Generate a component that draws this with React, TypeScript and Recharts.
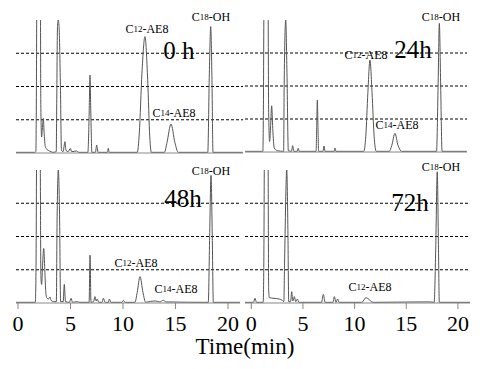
import { Line, LineChart, ReferenceDot, ReferenceLine, XAxis, YAxis } from "recharts";

type Pt = [number, number];

// [retention time (min), signal (% of panel height)]
const trace0h: Pt[] = [
    [0.1, 0.5], [1.9, 0.5], [2.0, 1], [2.06, 60], [2.1, 150], [2.28, 200], [2.43, 150], [2.47, 40],
    [2.55, 12], [2.62, 18], [2.71, 26], [2.8, 14], [2.9, 5], [3.03, 3], [3.3, 1.5], [3.64, 0.5],
    [3.95, 1], [4.0, 40], [4.07, 95], [4.14, 100], [4.22, 95], [4.35, 50], [4.45, 2], [4.6, 1],
    [4.7, 5], [4.78, 8.5], [4.88, 2], [5.1, 1], [5.3, 3.5], [5.42, 1], [5.9, 1.5], [6.1, 0.5],
    [6.98, 0.5], [7.1, 30], [7.18, 58.6], [7.26, 30], [7.36, 0.5], [7.7, 0.5], [7.82, 6], [7.95, 0.5],
    [8.85, 0.5], [8.93, 3.5], [9.02, 0.5], [11.7, 0.5], [11.9, 15], [12.15, 60], [12.44, 87.5],
    [12.7, 55], [12.9, 12], [13.05, 0.5], [14.3, 0.5], [14.55, 8], [14.93, 21.8], [15.3, 8],
    [15.63, 0.5], [18.45, 0.5], [18.6, 60], [18.73, 95], [18.85, 55], [18.95, 0.5], [21.8, 0.5],
];

const trace24h: Pt[] = [
    [0.4, 0.5], [2.1, 0.5], [2.16, 40], [2.21, 120], [2.42, 200], [2.6, 120], [2.66, 30], [2.75, 8],
    [2.85, 20], [2.95, 35], [3.05, 18], [3.2, 3], [3.5, 1], [4.1, 0.5], [4.15, 50], [4.3, 100],
    [4.42, 60], [4.55, 1], [4.85, 0.5], [4.97, 4.8], [5.08, 0.5], [5.4, 0.5], [5.5, 2.8], [5.6, 0.5],
    [7.22, 0.5], [7.28, 20], [7.34, 39.4], [7.4, 20], [7.46, 0.5], [7.88, 0.5], [7.98, 4.5],
    [8.08, 0.5], [8.95, 0.5], [9.04, 3], [9.13, 0.5], [11.8, 0.5], [12.0, 12], [12.2, 45],
    [12.4, 69.7], [12.6, 45], [12.8, 12], [13.0, 0.5], [14.25, 0.5], [14.5, 5], [14.8, 14.1],
    [15.1, 5], [15.45, 0.5], [18.8, 0.5], [18.95, 50], [19.07, 97.5], [19.2, 50], [19.33, 0.5],
    [21.7, 0.5],
];

const trace48h: Pt[] = [
    [-0.19, 0.5], [1.65, 0.5], [1.72, 30], [1.77, 110], [1.95, 200], [2.12, 110], [2.18, 20],
    [2.25, 14], [2.35, 30], [2.45, 41], [2.55, 25], [2.65, 8], [2.73, 4], [2.9, 3], [3.05, 4.5],
    [3.15, 2], [3.4, 1], [3.65, 1], [3.72, 60], [3.84, 100], [3.95, 70], [4.06, 1], [4.3, 1],
    [4.41, 14], [4.52, 1], [4.9, 0.5], [5.05, 3.5], [5.2, 0.5], [5.6, 1], [5.9, 0.5], [6.77, 0.5],
    [6.86, 36], [6.95, 0.5], [7.2, 1], [7.33, 4.8], [7.45, 1.5], [7.55, 3], [7.7, 0.5], [8.0, 0.5],
    [8.13, 3.6], [8.3, 0.5], [8.6, 0.5], [8.7, 3], [8.85, 0.5], [9.9, 0.5], [10.03, 2], [10.2, 0.5],
    [11.14, 0.5], [11.35, 8], [11.62, 19.8], [11.9, 8], [12.16, 0.5], [12.6, 1.2], [13.1, 1.5],
    [13.5, 0.8], [13.84, 2], [14.1, 0.8], [18.12, 0.5], [18.25, 50], [18.38, 96], [18.5, 50],
    [18.6, 0.5], [21.14, 0.5],
];

const trace72h: Pt[] = [
    [-0.61, 0.5], [0.2, 0.5], [0.36, 3.5], [0.5, 0.5], [1.15, 0.5], [1.22, 40], [1.27, 120],
    [1.45, 200], [1.62, 120], [1.68, 10], [1.75, 4], [2.2, 3.5], [2.7, 3], [3.0, 2], [3.15, 1],
    [3.22, 30], [3.43, 100], [3.55, 50], [3.62, 1], [3.8, 1], [3.91, 8.5], [4.02, 1.5], [4.17, 4.8],
    [4.3, 1], [4.46, 3], [4.6, 0.5], [6.8, 0.5], [6.97, 6.5], [7.15, 0.5], [7.9, 0.5], [8.04, 4.8],
    [8.2, 0.5], [8.36, 3], [8.5, 0.5], [10.7, 0.5], [11.1, 4], [11.8, 0.5], [16.5, 0.8], [17.3, 0.8],
    [17.7, 0.5], [17.85, 40], [18.0, 98.7], [18.12, 40], [18.2, 0.5], [21.17, 0.5],
];

const gridLevels = [25, 50, 75];
const ticksFromZero = [0, 5, 10, 15, 20];
const ticksFromFive = [5, 10, 15, 20];

// peak names: main letter, subscript carbon count, rest
interface PeakTag { t: number; v: number; main: string; sub: string; rest: string; }
interface HourTag { t: number; v: number; text: string; }

const tags0h: PeakTag[] = [
    { t: 18.76, v: 102.3, main: "C", sub: "18", rest: "-OH" },
    { t: 12.63, v: 93.2, main: "C", sub: "12", rest: "-AE8" },
    { t: 15.22, v: 30.1, main: "C", sub: "14", rest: "-AE8" },
];
const tags24h: PeakTag[] = [
    { t: 19.23, v: 102.3, main: "C", sub: "18", rest: "-OH" },
    { t: 12.02, v: 73.5, main: "C", sub: "12", rest: "-AE8" },
    { t: 15.0, v: 20.5, main: "C", sub: "14", rest: "-AE8" },
];
const tags48h: PeakTag[] = [
    { t: 18.38, v: 99.2, main: "C", sub: "18", rest: "-OH" },
    { t: 11.24, v: 30.1, main: "C", sub: "12", rest: "-AE8" },
    { t: 15.05, v: 10.5, main: "C", sub: "14", rest: "-AE8" },
];
const tags72h: PeakTag[] = [
    { t: 18.36, v: 102.3, main: "C", sub: "18", rest: "-OH" },
    { t: 11.49, v: 12, main: "C", sub: "12", rest: "-AE8" },
];

const hour0h: HourTag = { t: 15.69, v: 76.7, text: "0 h" };
const hour24h: HourTag = { t: 16.54, v: 78, text: "24h" };
const hour48h: HourTag = { t: 15.71, v: 78.2, text: "48h" };
const hour72h: HourTag = { t: 15.36, v: 75.2, text: "72h" };

const W = 486;
const H = 369;
const AXIS_H = 30;
const serif = "'Liberation Serif', 'Times New Roman', serif";

interface Panel {
    trace: Pt[];
    tags: PeakTag[];
    hour: HourTag;
    domain: [number, number];
    ticks: number[];
    showLabels: boolean;
    margin: { top: number; right: number; bottom: number; left: number };
}

const panels: Panel[] = [
    { trace: trace0h, tags: tags0h, hour: hour0h, domain: [0.1, 21.82], ticks: ticksFromFive, showLabels: false,
        margin: { top: 20, left: 16, right: W - 243, bottom: H - 153 - AXIS_H } },
    { trace: trace24h, tags: tags24h, hour: hour24h, domain: [0.385, 21.73], ticks: ticksFromFive, showLabels: false,
        margin: { top: 20, left: 245, right: W - 467, bottom: H - 152 - AXIS_H } },
    { trace: trace48h, tags: tags48h, hour: hour48h, domain: [-0.19, 21.14], ticks: ticksFromZero, showLabels: true,
        margin: { top: 170, left: 16, right: W - 240, bottom: H - 303 - AXIS_H } },
    { trace: trace72h, tags: tags72h, hour: hour72h, domain: [-0.61, 21.17], ticks: ticksFromZero, showLabels: true,
        margin: { top: 170, left: 245, right: W - 470, bottom: H - 303 - AXIS_H } },
];

function PeakText({ cx, cy, tag }: { cx: number; cy: number; tag: PeakTag }) {
    return (
        <text x={cx} y={cy} textAnchor="middle" dominantBaseline="central" fontFamily={serif} fontSize={12} fill="#000">
            {tag.main}
            <tspan fontSize={9}>{tag.sub}</tspan>
            {tag.rest}
        </text>
    );
}

function HourText({ cx, cy, text }: { cx: number; cy: number; text: string }) {
    return (
        <text x={cx} y={cy} textAnchor="middle" dominantBaseline="central" fontFamily={serif} fontSize={25} fill="#000">
            {text}
        </text>
    );
}

function MinuteTick({ x, y, payload }: any) {
    return (
        <text x={x} y={y} dy="0.71em" textAnchor="middle" fontFamily={serif} fontSize={22} fill="#000">
            {payload.value}
        </text>
    );
}

function ChromPanel({ p }: { p: Panel }) {
    const data = p.trace.map(([t, v]) => ({ t, v }));
    return (
        <div style={{ position: "absolute", left: 0, top: 0 }}>
            <LineChart width={W} height={H} data={data} margin={p.margin}>
                <XAxis
                    type="number"
                    dataKey="t"
                    domain={p.domain}
                    allowDataOverflow
                    ticks={p.ticks}
                    interval={0}
                    height={AXIS_H}
                    axisLine={{ stroke: "#888" }}
                    tickLine={{ stroke: "#888" }}
                    tickSize={6}
                    tickMargin={6}
                    tick={p.showLabels ? <MinuteTick /> : false}
                />
                <YAxis
                    type="number"
                    domain={[0, 100]}
                    allowDataOverflow
                    ticks={gridLevels}
                    width={0}
                    tick={false}
                    tickLine={false}
                    axisLine={{ stroke: "#888" }}
                />
                {gridLevels.map((g) => (
                    <ReferenceLine key={g} y={g} stroke="#000" strokeDasharray="3 2" />
                ))}
                <Line
                    type="monotone"
                    dataKey="v"
                    stroke="#555"
                    strokeWidth={1}
                    dot={false}
                    isAnimationActive={false}
                />
                <ReferenceDot
                    x={p.hour.t}
                    y={p.hour.v}
                    r={0}
                    ifOverflow="visible"
                    shape={(s: any) => <HourText cx={s.cx} cy={s.cy} text={p.hour.text} />}
                />
                {p.tags.map((tag, i) => (
                    <ReferenceDot
                        key={i}
                        x={tag.t}
                        y={tag.v}
                        r={0}
                        ifOverflow="visible"
                        shape={(s: any) => <PeakText cx={s.cx} cy={s.cy} tag={tag} />}
                    />
                ))}
            </LineChart>
        </div>
    );
}

export default function App() {
    return (
        <div style={{ position: "absolute", left: 0, top: 0, width: W, height: H, background: "#fff" }}>
            {panels.map((p, i) => (
                <ChromPanel key={i} p={p} />
            ))}
            <svg width={W} height={H} style={{ position: "absolute", left: 0, top: 0, pointerEvents: "none" }}>
                <text x={245} y={354} textAnchor="middle" fontFamily={serif} fontSize={23} fill="#000">
                    Time(min)
                </text>
            </svg>
        </div>
    );
}
